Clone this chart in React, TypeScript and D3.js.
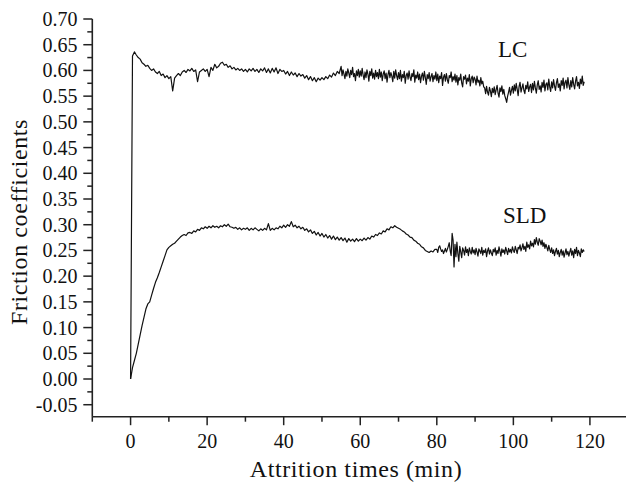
import React from "react";
import * as d3 from "d3";

const W = 626;
const H = 483;

// x axis (minutes)
const xTicks = [0, 20, 40, 60, 80, 100, 120];
const xTickLabels = ["0", "20", "40", "60", "80", "100", "120"];
const xMinorTicks = [-10, 10, 30, 50, 70, 90, 110];

// y axis (friction coefficient)
const yTicks = [-0.05, 0, 0.05, 0.1, 0.15, 0.2, 0.25, 0.3, 0.35, 0.4, 0.45, 0.5, 0.55, 0.6, 0.65, 0.7];
const yTickLabels = ["-0.05", "0.00", "0.05", "0.10", "0.15", "0.20", "0.25", "0.30", "0.35", "0.40", "0.45", "0.50", "0.55", "0.60", "0.65", "0.70"];
const yMinorTicks = [-0.025, 0.025, 0.075, 0.125, 0.175, 0.225, 0.275, 0.325, 0.375, 0.425, 0.475, 0.525, 0.575, 0.625, 0.675];

// LC trace, part 1: t = 0 .. 54.5 min, one value every 0.5 min
const LC_A_START = 0;
const LC_A_STEP = 0.5;
const lcValuesA = [
  0, 0.628, 0.636, 0.630, 0.625, 0.622, 0.615, 0.612, 0.608, 0.610,
  0.604, 0.600, 0.603, 0.597, 0.594, 0.598, 0.590, 0.593, 0.586, 0.590,
  0.584, 0.588, 0.560, 0.585, 0.590, 0.594, 0.590, 0.597, 0.600, 0.596,
  0.602, 0.599, 0.604, 0.598, 0.601, 0.578, 0.597, 0.600, 0.603, 0.598,
  0.602, 0.588, 0.606, 0.600, 0.612, 0.605, 0.608, 0.614, 0.616, 0.610,
  0.612, 0.606, 0.609, 0.603, 0.606, 0.601, 0.604, 0.600, 0.603, 0.598,
  0.602, 0.597, 0.603, 0.599, 0.604, 0.598, 0.602, 0.596, 0.603, 0.599,
  0.605, 0.596, 0.603, 0.595, 0.604, 0.597, 0.605, 0.594, 0.602, 0.598,
  0.600, 0.593, 0.598, 0.590, 0.597, 0.591, 0.595, 0.588, 0.594, 0.589,
  0.592, 0.585, 0.590, 0.582, 0.588, 0.580, 0.586, 0.578, 0.585, 0.581,
  0.586, 0.582, 0.588, 0.584, 0.591, 0.587, 0.595, 0.590, 0.598, 0.594,
];

// LC trace, part 2: t = 55 .. 118.5 min, one value every 0.25 min
const LC_B_START = 55;
const LC_B_STEP = 0.25;
const lcValuesB = [
  0.608, 0.590, 0.601, 0.593, 0.584, 0.598, 0.589, 0.603, 0.595, 0.586,
  0.600, 0.592, 0.606, 0.588, 0.594, 0.580, 0.599, 0.590, 0.602, 0.587,
  0.599, 0.589, 0.604, 0.591, 0.582, 0.597, 0.586, 0.601, 0.593, 0.579,
  0.598, 0.590, 0.603, 0.585, 0.595, 0.583, 0.600, 0.588, 0.596, 0.584,
  0.602, 0.587, 0.597, 0.580, 0.593, 0.599, 0.584, 0.595, 0.577, 0.592,
  0.600, 0.586, 0.596, 0.589, 0.578, 0.598, 0.585, 0.601, 0.590, 0.582,
  0.596, 0.584, 0.600, 0.579, 0.592, 0.586, 0.598, 0.575, 0.590, 0.595,
  0.583, 0.599, 0.587, 0.580, 0.594, 0.588, 0.601, 0.577, 0.591, 0.585,
  0.597, 0.582, 0.593, 0.576, 0.589, 0.595, 0.581, 0.598, 0.586, 0.573,
  0.592, 0.584, 0.596, 0.579, 0.588, 0.594, 0.578, 0.590, 0.583, 0.597,
  0.580, 0.593, 0.576, 0.589, 0.584, 0.596, 0.571, 0.587, 0.592, 0.579,
  0.594, 0.582, 0.575, 0.590, 0.586, 0.597, 0.578, 0.588, 0.581, 0.593,
  0.577, 0.590, 0.572, 0.586, 0.581, 0.593, 0.576, 0.568, 0.588, 0.583,
  0.591, 0.574, 0.585, 0.579, 0.592, 0.570, 0.584, 0.589, 0.576, 0.587,
  0.583, 0.572, 0.589, 0.577, 0.581, 0.570, 0.586, 0.574, 0.579, 0.568,
  0.566, 0.555, 0.569, 0.558, 0.552, 0.567, 0.560, 0.549, 0.565, 0.557,
  0.568, 0.553, 0.562, 0.571, 0.556, 0.548, 0.566, 0.559, 0.570, 0.554,
  0.563, 0.551, 0.545, 0.538, 0.550, 0.558, 0.567, 0.552, 0.561, 0.569,
  0.556, 0.572, 0.560, 0.575, 0.563, 0.551, 0.569, 0.577, 0.558, 0.566,
  0.574, 0.561, 0.555, 0.571, 0.564, 0.578, 0.559, 0.568, 0.573, 0.557,
  0.575, 0.562, 0.579, 0.566, 0.556, 0.572, 0.580, 0.563, 0.570, 0.558,
  0.577, 0.567, 0.581, 0.560, 0.573, 0.576, 0.562, 0.583, 0.568, 0.559,
  0.578, 0.566, 0.582, 0.570, 0.561, 0.576, 0.584, 0.567, 0.574, 0.560,
  0.580, 0.571, 0.585, 0.564, 0.577, 0.581, 0.566, 0.586, 0.572, 0.563,
  0.580, 0.568, 0.586, 0.573, 0.564, 0.579, 0.588, 0.570, 0.577, 0.565,
  0.583, 0.574, 0.589, 0.571, 0.578,
];

// SLD trace, part 1: t = 0 .. 79.5 min, one value every 0.5 min
const SLD_A_START = 0;
const SLD_A_STEP = 0.5;
const sldValuesA = [
  0.000, 0.022, 0.036, 0.050, 0.068, 0.086, 0.104, 0.120, 0.136, 0.146,
  0.150, 0.163, 0.176, 0.188, 0.197, 0.207, 0.218, 0.229, 0.240, 0.251,
  0.256, 0.259, 0.262, 0.264, 0.268, 0.272, 0.276, 0.279, 0.281, 0.279,
  0.284, 0.285, 0.283, 0.288, 0.286, 0.291, 0.289, 0.294, 0.292, 0.296,
  0.293, 0.297, 0.294, 0.298, 0.295, 0.297, 0.294, 0.298, 0.296, 0.300,
  0.297, 0.301, 0.296, 0.295, 0.293, 0.295, 0.291, 0.294, 0.290, 0.293,
  0.291, 0.294, 0.289, 0.293, 0.290, 0.294, 0.291, 0.288, 0.292, 0.289,
  0.293, 0.290, 0.302, 0.289, 0.293, 0.290, 0.294, 0.292, 0.297, 0.294,
  0.299, 0.295, 0.300, 0.297, 0.306, 0.296, 0.299, 0.294, 0.297, 0.292,
  0.295, 0.289, 0.292, 0.286, 0.290, 0.283, 0.287, 0.280, 0.285, 0.278,
  0.283, 0.276, 0.281, 0.274, 0.279, 0.272, 0.278, 0.271, 0.276, 0.270,
  0.275, 0.269, 0.274, 0.266, 0.273, 0.268, 0.272, 0.267, 0.273, 0.268,
  0.272, 0.269, 0.274, 0.270, 0.275, 0.272, 0.278, 0.276, 0.281, 0.279,
  0.284, 0.282, 0.288, 0.286, 0.292, 0.290, 0.296, 0.294, 0.298, 0.295,
  0.293, 0.291, 0.288, 0.286, 0.282, 0.280, 0.276, 0.275, 0.270, 0.268,
  0.264, 0.262, 0.257, 0.255, 0.250, 0.248, 0.246, 0.249, 0.247, 0.252,
];

// SLD trace, part 2: t = 80 .. 118.5 min, one value every 0.25 min
const SLD_B_START = 80;
const SLD_B_STEP = 0.25;
const sldValuesB = [
  0.252, 0.246, 0.256, 0.259, 0.253, 0.248, 0.251, 0.244, 0.249, 0.254,
  0.247, 0.252, 0.258, 0.265, 0.249, 0.240, 0.283, 0.270, 0.218, 0.262,
  0.238, 0.266, 0.244, 0.229, 0.258, 0.247, 0.236, 0.255, 0.250, 0.241,
  0.257, 0.246, 0.252, 0.240, 0.255, 0.248, 0.243, 0.256, 0.245, 0.251,
  0.242, 0.254, 0.247, 0.239, 0.253, 0.249, 0.244, 0.256, 0.241, 0.250,
  0.246, 0.253, 0.238, 0.249, 0.255, 0.243, 0.251, 0.245, 0.240, 0.252,
  0.247, 0.255, 0.241, 0.250, 0.244, 0.257, 0.248, 0.239, 0.253, 0.246,
  0.251, 0.243, 0.256, 0.249, 0.242, 0.254, 0.247, 0.252, 0.245, 0.257,
  0.250, 0.246, 0.258, 0.251, 0.244, 0.256, 0.253, 0.261, 0.249, 0.255,
  0.263, 0.252, 0.258, 0.248, 0.266, 0.256, 0.261, 0.253, 0.268, 0.259,
  0.264, 0.257, 0.271, 0.262, 0.275, 0.266, 0.260, 0.273, 0.268, 0.261,
  0.270, 0.258, 0.265, 0.254, 0.262, 0.256, 0.249, 0.260, 0.252, 0.246,
  0.255, 0.244, 0.251, 0.240, 0.248, 0.254, 0.243, 0.250, 0.238, 0.246,
  0.252, 0.241, 0.249, 0.237, 0.245, 0.253, 0.242, 0.248, 0.239, 0.247,
  0.254, 0.241, 0.249, 0.236, 0.252, 0.244, 0.256, 0.240, 0.250, 0.245,
  0.238, 0.253, 0.246, 0.251, 0.248,
];

const FONT = "'Liberation Serif', 'Times New Roman', serif";

type Pt = [number, number];

function toPoints(segments: { start: number; step: number; values: number[] }[]): Pt[] {
  const pts: Pt[] = [];
  segments.forEach((s) => s.values.forEach((v, i) => pts.push([s.start + i * s.step, v])));
  return pts;
}

export default function App() {
  const x = d3.scaleLinear().domain([-10, 130]).range([92.3, 628.2]);
  const y = d3.scaleLinear().domain([-0.0733, 0.7]).range([416.7, 19]);

  const lcPoints = toPoints([
    { start: LC_A_START, step: LC_A_STEP, values: lcValuesA },
    { start: LC_B_START, step: LC_B_STEP, values: lcValuesB },
  ]);
  const sldPoints = toPoints([
    { start: SLD_A_START, step: SLD_A_STEP, values: sldValuesA },
    { start: SLD_B_START, step: SLD_B_STEP, values: sldValuesB },
  ]);

  const line = d3
    .line<Pt>()
    .x((d) => x(d[0]))
    .y((d) => y(d[1]));

  const axisColor = "#222";
  const x0 = x(-10);
  const yBottom = y(-0.0733);

  return (
    <svg
      width={W}
      height={H}
      style={{ position: "absolute", left: 0, top: 0, background: "#fff" }}
      fontFamily={FONT}
    >
      <rect x={0} y={0} width={W} height={H} fill="#fff" />
      {/* data */}
      <path d={line(lcPoints) || ""} fill="none" stroke="#111" strokeWidth={1.2} strokeLinejoin="round" />
      <path d={line(sldPoints) || ""} fill="none" stroke="#111" strokeWidth={1.2} strokeLinejoin="round" />

      {/* axes */}
      <line x1={x0} x2={W} y1={yBottom} y2={yBottom} stroke={axisColor} strokeWidth={1.6} />
      <line x1={x0} x2={x0} y1={y(0.7)} y2={yBottom} stroke={axisColor} strokeWidth={1.6} />

      {xTicks.map((t, i) => (
        <g key={"xt" + t}>
          <line x1={x(t)} x2={x(t)} y1={yBottom} y2={yBottom + 8.5} stroke={axisColor} strokeWidth={1.5} />
          <text x={x(t)} y={447.5} textAnchor="middle" fontSize={20} fill="#111">
            {xTickLabels[i]}
          </text>
        </g>
      ))}
      {xMinorTicks.map((t) => (
        <line key={"xm" + t} x1={x(t)} x2={x(t)} y1={yBottom} y2={yBottom + 5} stroke={axisColor} strokeWidth={1.5} />
      ))}

      {yTicks.map((v, i) => (
        <g key={"yt" + v}>
          <line x1={x0 - 9} x2={x0} y1={y(v)} y2={y(v)} stroke={axisColor} strokeWidth={1.5} />
          <text x={77.5} y={y(v) + 7} textAnchor="end" fontSize={20} fill="#111">
            {yTickLabels[i]}
          </text>
        </g>
      ))}
      {yMinorTicks.map((v) => (
        <line key={"ym" + v} x1={x0 - 5} x2={x0} y1={y(v)} y2={y(v)} stroke={axisColor} strokeWidth={1.5} />
      ))}

      {/* axis titles */}
      <text x={356} y={477} textAnchor="middle" fontSize={24} letterSpacing={0.6} fill="#111">
        Attrition times (min)
      </text>
      <text
        transform={`translate(27, 222) rotate(-90)`}
        textAnchor="middle"
        fontSize={24}
        letterSpacing={0.6}
        fill="#111"
      >
        Friction coefficients
      </text>

      {/* series labels */}
      <text x={498} y={56.5} fontSize={23} fill="#111">
        LC
      </text>
      <text x={503} y={222.5} fontSize={23} fill="#111">
        SLD
      </text>
    </svg>
  );
}
